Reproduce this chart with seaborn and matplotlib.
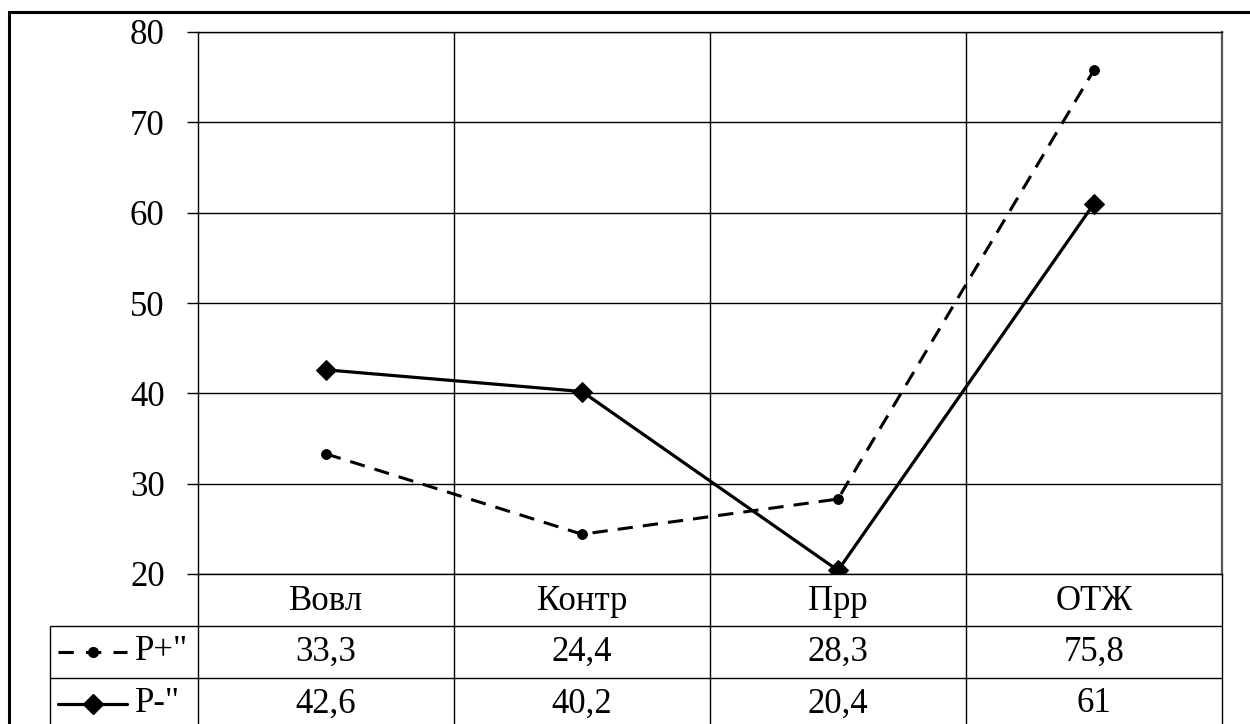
import numpy as np
import pandas as pd
import matplotlib
matplotlib.use('Agg')
import matplotlib.pyplot as plt
from matplotlib.patches import Rectangle
import seaborn as sns

# data
categories = ['Вовл', 'Контр', 'Прр', 'ОТЖ']
p_plus = [33.3, 24.4, 28.3, 75.8]
p_minus = [42.6, 40.2, 20.4, 61]
series_names = ['P+"', 'P-"']
y_ticks = [20, 30, 40, 50, 60, 70, 80]

sns.set_theme(style='white')
plt.rcParams['font.family'] = ['Liberation Serif', 'DejaVu Serif']

W, H = 1250, 724
fig = plt.figure(figsize=(12.5, 7.24), dpi=100)

# main plot area and data table below it
ax = fig.add_axes([198 / W, 1 - 574 / H, (1222 - 198) / W, (574 - 32) / H])
tab = fig.add_axes([50 / W, 1 - 730 / H, (1222 - 50) / W, (730 - 574) / H])

df = pd.DataFrame({'cat': categories, 'plus': p_plus, 'minus': p_minus})

sns.lineplot(data=df, x='cat', y='plus', ax=ax, sort=False, color='black',
             lw=2.2, linestyle=(0, (5, 3.3)), marker='o', ms=7, mec='black')
sns.lineplot(data=df, x='cat', y='minus', ax=ax, sort=False, color='black',
             lw=2.3, marker='D', ms=10, mec='black')

ax.set_xlim(-0.5, len(categories) - 0.5)
ax.set_ylim(20, 80)
ax.set_yticks(y_ticks)
ax.set_xticks([])
ax.set_xlabel('')
ax.set_ylabel('')
ax.yaxis.grid(True, color='black', lw=1)
for xb in np.arange(0.5, len(categories) - 0.5, 1):
    ax.axvline(xb, color='black', lw=1, zorder=0.5)
for side in ['left', 'top', 'bottom']:
    ax.spines[side].set_color('black')
    ax.spines[side].set_linewidth(1)
ax.spines['right'].set_color('#555555')
ax.spines['right'].set_linewidth(1.6)
ax.tick_params(axis='y', left=True, length=8, width=1, color='black',
               direction='out', pad=16, labelsize=25, labelcolor='black')

# table
left = -0.5 - 148 / 256
tab.set_xlim(left, len(categories) - 0.5)
tab.set_ylim(3, 0)
tab.axis('off')
line_kw = dict(color='black', lw=1, clip_on=False)
tab.hlines([1, 2], left, len(categories) - 0.5, **line_kw)
tab.vlines([left], 1, 3, **line_kw)
tab.vlines(np.arange(-0.5, len(categories), 1), 0, 3, **line_kw)

for i, c in enumerate(categories):
    tab.text(i, 0.52, c, ha='center', va='center', fontsize=25, color='black')

def fmt(v):
    return f'{v:g}'.replace('.', ',')

for row, vals in enumerate([p_plus, p_minus], start=1):
    for i, v in enumerate(vals):
        tab.text(i, row + 0.5, fmt(v), ha='center', va='center', fontsize=25, color='black')

# legend keys inside table
x0, x1 = (58 - 198) / 256 - 0.5, (127 - 198) / 256 - 0.5
xm = (93 - 198) / 256 - 0.5
tab.plot([x0, x1], [1.5, 1.5], color='black', lw=2.2, linestyle=(0, (5, 4)), clip_on=False)
tab.plot([xm], [1.5], color='black', marker='o', ms=7, clip_on=False)
tab.plot([x0, x1], [2.5, 2.5], color='black', lw=2.3, clip_on=False)
tab.plot([xm], [2.5], color='black', marker='D', ms=10, clip_on=False)
xt = (135 - 198) / 256 - 0.5
for row, name in enumerate(series_names, start=1):
    tab.text(xt, row + 0.5, name, ha='left', va='center', fontsize=25, color='black')

# outer border
fig.add_artist(Rectangle((9 / W, -0.5), 2, 1 - 12 / H + 0.5, transform=fig.transFigure,
                         fill=False, ec='black', lw=2.2))

fig.savefig('out.png', dpi=100, facecolor='white')
